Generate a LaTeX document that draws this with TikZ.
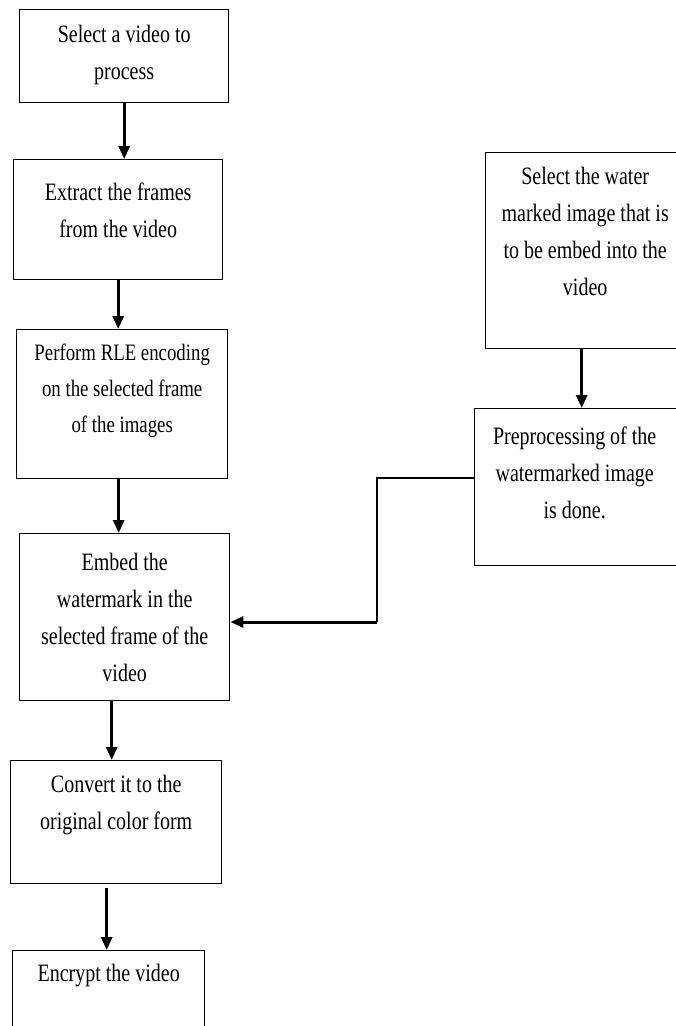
\documentclass[tikz,border=0pt]{standalone}
\usepackage{fontspec}
\setmainfont{Liberation Serif}[FakeStretch=0.8]
\usetikzlibrary{arrows.meta}
\usetikzlibrary{positioning}
\tikzset{>={Triangle[length=13pt,width=11pt]}}
\tikzset{proc/.style={draw=black, line width=1.4pt, rectangle, anchor=north west, inner sep=0}}
\tikzset{txt/.style={draw=none, anchor=north, inner sep=0, align=center, font=\fontsize{25}{37}\selectfont}}
\tikzset{flow/.style={->, line width=3pt}}
\tikzset{link/.style={-, line width=1.6pt}}

\begin{document}
\begin{tikzpicture}[x=1pt,y=1pt]
\useasboundingbox (0,0) rectangle (676,-1026);
\clip (0,0) rectangle (676,-1026);
% left column
\node [proc, minimum width=209, minimum height=93] (B1) at (19,-9) {};
\node [proc, minimum width=209, minimum height=120] (B2) at (13,-159) {};
\node [proc, minimum width=211, minimum height=149] (B3) at (16,-329) {};
\node [proc, minimum width=210, minimum height=167] (B4) at (19,-533) {};
\node [proc, minimum width=211, minimum height=123] (B5) at (10,-760) {};
\node [proc, minimum width=192, minimum height=95] (B6) at (12,-950) {};
% right column
\node [proc, minimum width=205, minimum height=196] (R1) at (485,-152) {};
\node [proc, minimum width=210, minimum height=157] (R2) at (474,-408) {};

\node [txt, below=16pt of B1.north] (T1) {Select a video to\\process};
\node [txt, below=24pt of B2.north] (T2) {Extract the frames\\from the video};
\node [txt, below=15pt of B3.north, font=\fontsize{23.5}{36}\selectfont] (T3) {Perform RLE encoding\\on the selected frame\\of the images};
\node [txt, below=20pt of B4.north] (T4) {Embed the\\watermark in the\\selected frame of the\\video};
\node [txt, below=15pt of B5.north] (T5) {Convert it to the\\original color form};
\node [txt, below=14pt of B6.north] (T6) {Encrypt the video};
\node [txt, below=15pt of R1.north, xshift=-3pt] (U1) {Select the water\\marked image that is\\to be embed into the\\video};
\node [txt, below=19pt of R2.north, xshift=-5pt] (U2) {Preprocessing of the\\watermarked image\\is done.};

\draw [flow] (B1.south) -- (B1.south |- B2.north);
\draw [flow] (B2.south) -- (B2.south |- B3.north);
\draw [flow] ([xshift=-3.5pt]B3.south) -- ([xshift=-3.5pt]B3.south |- B4.north);
\draw [flow] ([xshift=-13pt]B4.south) -- ([xshift=-13pt]B4.south |- B5.north);
\draw [flow] ([xshift=-9.5pt,yshift=-4pt]B5.south) -- ([xshift=-9.5pt]B5.south |- B6.north);
\draw [flow] ([xshift=-6.5pt]R1.south) -- ([xshift=-6.5pt]R1.south |- R2.north);

\coordinate (bend) at (377,-478);
\coordinate (join) at (377,-622);
\draw [link] (R2.west |- bend) -- (bend) -- (join);
\draw [flow] (join) -- (join -| B4.east);
\end{tikzpicture}
\end{document}
